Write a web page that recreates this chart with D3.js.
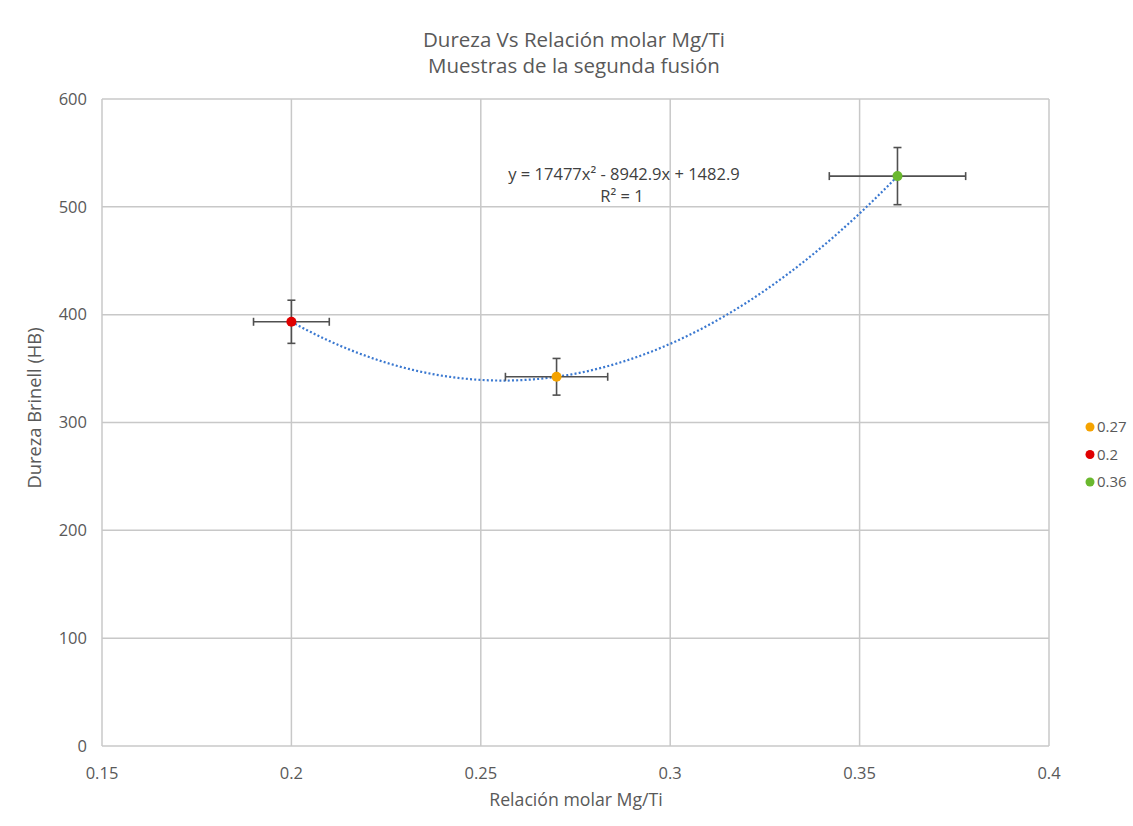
<!DOCTYPE html>
<html><head><meta charset="utf-8">
<script src="https://cdn.jsdelivr.net/npm/d3@7"></script>
<style>body{margin:0;background:#fff}svg{display:block}text{font-family:"Open Sans","Noto Sans",sans-serif;fill:#595959}</style>
</head><body>
<svg id="c" width="1133" height="826"></svg>
<script>
const labels = ["0.27", "0.2", "0.36"];
const xValues = [0.27, 0.2, 0.36];
const yValues = [342.4, 393.4, 528.5];
const xErr = [0.0135, 0.01, 0.018];
const yErr = [17, 20, 26.5];
const colors = ["#F5A300", "#E00000", "#6AB82E"];
const xTicks = [0.15, 0.2, 0.25, 0.3, 0.35, 0.4];
const yTicks = [0, 100, 200, 300, 400, 500, 600];
const trendCoef = [17477, -8942.9, 1482.9];

const svg = d3.select("#c");
const L = 102, R = 1049, T = 99, B = 746;
const x = d3.scaleLinear().domain([0.15, 0.4]).range([L, R]);
const y = d3.scaleLinear().domain([0, 600]).range([B, T]);

// gridlines
svg.append("g").selectAll("line").data(yTicks).join("line")
  .attr("x1", L).attr("x2", R).attr("y1", d => y(d)).attr("y2", d => y(d))
  .attr("stroke", "#c8c8c8").attr("stroke-width", 1.5);
svg.append("g").selectAll("line").data(xTicks).join("line")
  .attr("y1", T).attr("y2", B).attr("x1", d => x(d)).attr("x2", d => x(d))
  .attr("stroke", "#c8c8c8").attr("stroke-width", 1.5);

// tick labels
svg.append("g").selectAll("text").data(yTicks).join("text")
  .attr("x", 87).attr("y", d => y(d)).attr("dy", "0.35em").attr("text-anchor", "end")
  .attr("font-size", 16.5).text(d => d);
svg.append("g").selectAll("text").data(xTicks).join("text")
  .attr("x", d => x(d)).attr("y", 779).attr("text-anchor", "middle")
  .attr("font-size", 16.5).text(d => d);

// trendline
const tx = d3.range(0, 161).map(i => 0.2 + i * 0.001);
const line = d3.line().x(d => x(d)).y(d => y(trendCoef[0]*d*d + trendCoef[1]*d + trendCoef[2]));
svg.append("path").datum(tx).attr("d", line).attr("fill", "none")
  .attr("stroke", "#3A78D0").attr("stroke-width", 2.2).attr("stroke-dasharray", "2,2.2");

// error bars
const pts = xValues.map((v, i) => ({x: v, y: yValues[i], ex: xErr[i], ey: yErr[i], c: colors[i], l: labels[i]}));
const eb = svg.append("g").attr("stroke", "#505050").attr("stroke-width", 1.6);
pts.forEach(p => {
  eb.append("line").attr("x1", x(p.x - p.ex)).attr("x2", x(p.x + p.ex)).attr("y1", y(p.y)).attr("y2", y(p.y));
  eb.append("line").attr("x1", x(p.x - p.ex)).attr("x2", x(p.x - p.ex)).attr("y1", y(p.y) - 4).attr("y2", y(p.y) + 4);
  eb.append("line").attr("x1", x(p.x + p.ex)).attr("x2", x(p.x + p.ex)).attr("y1", y(p.y) - 4).attr("y2", y(p.y) + 4);
  eb.append("line").attr("y1", y(p.y - p.ey)).attr("y2", y(p.y + p.ey)).attr("x1", x(p.x)).attr("x2", x(p.x));
  eb.append("line").attr("y1", y(p.y - p.ey)).attr("y2", y(p.y - p.ey)).attr("x1", x(p.x) - 4).attr("x2", x(p.x) + 4);
  eb.append("line").attr("y1", y(p.y + p.ey)).attr("y2", y(p.y + p.ey)).attr("x1", x(p.x) - 4).attr("x2", x(p.x) + 4);
});
svg.append("g").selectAll("circle").data(pts).join("circle")
  .attr("cx", d => x(d.x)).attr("cy", d => y(d.y)).attr("r", 5).attr("fill", d => d.c);

// equation
svg.append("text").attr("x", 624).attr("y", 180).attr("text-anchor", "middle").attr("font-size", 16.5)
  .style("fill", "#404040").text("y = 17477x² - 8942.9x + 1482.9");
svg.append("text").attr("x", 622).attr("y", 202).attr("text-anchor", "middle").attr("font-size", 16.5)
  .style("fill", "#404040").text("R² = 1");

// titles
svg.append("text").attr("x", 574).attr("y", 47).attr("text-anchor", "middle").attr("font-size", 20.5).text("Dureza Vs Relación molar Mg/Ti");
svg.append("text").attr("x", 574).attr("y", 73).attr("text-anchor", "middle").attr("font-size", 20.5).text("Muestras de la segunda fusión");
svg.append("text").attr("x", 576).attr("y", 806).attr("text-anchor", "middle").attr("font-size", 17.7).text("Relación molar Mg/Ti");
svg.append("text").attr("transform", "translate(41,408) rotate(-90)").attr("text-anchor", "middle").attr("font-size", 18.3).text("Dureza Brinell (HB)");

// legend
const lg = svg.append("g").selectAll("g").data(pts).join("g")
  .attr("transform", (d, i) => `translate(1090,${427 + i * 27.5})`);
lg.append("circle").attr("r", 4.5).attr("fill", d => d.c);
lg.append("text").attr("x", 7).attr("dy", "0.35em").attr("font-size", 15).text(d => d.l);
</script>
</body></html>
